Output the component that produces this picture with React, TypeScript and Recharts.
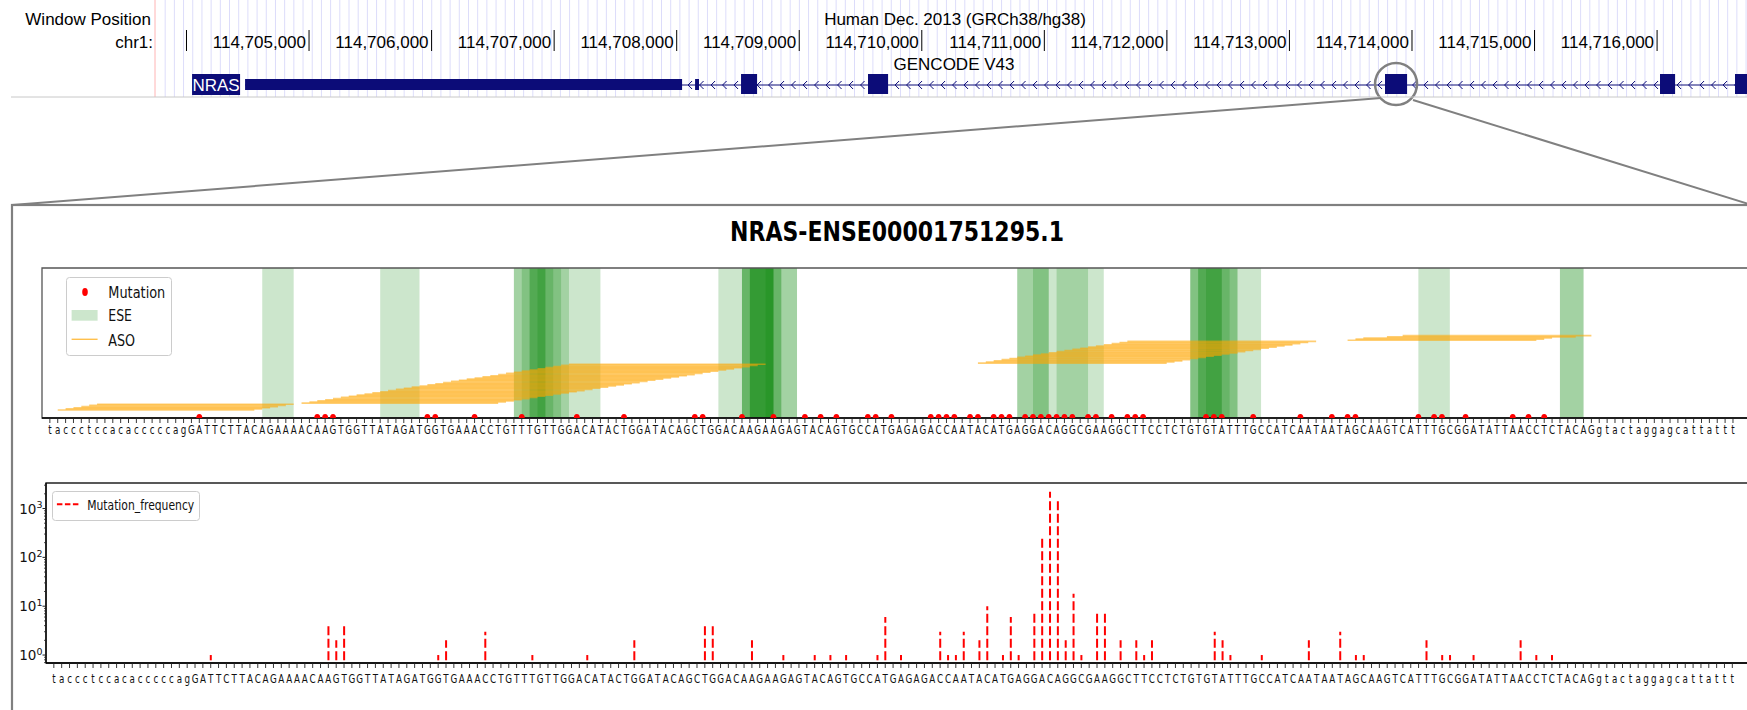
import React from 'react';
import {
  ComposedChart,
  XAxis,
  YAxis,
  ReferenceArea,
  Scatter,
  Bar,
  Legend,
} from 'recharts';

// ------------------------------------------------------------------ data
const SEQUENCE: string[] = (
  'taccctccacacccccag' +
  'GATTCTTACA' + 'GAAAACAAGT' + 'GGTTATAGAT' + 'GGTGAAACCT' + 'GTTTGTTGGA' +
  'CATACTGGAT' + 'ACAGCTGGAC' + 'AAGAAGAGTA' + 'CAGTGCCATG' + 'AGAGACCAAT' +
  'ACATGAGGAC' + 'AGGCGAAGGC' + 'TTCCTCTGTG' + 'TATTTGCCAT' + 'CAATAATAGC' +
  'AAGTCATTTG' + 'CGGATATTAA' + 'CCTCTACAG' +
  'gtactaggagcattattt'
).split('');

const MUTATION_POS = [
  19, 34, 35, 36, 48, 49, 54, 60, 67,
  73, 82, 83, 88, 92, 96, 98, 100, 104, 105, 107, 112, 113, 114, 115, 117, 118, 120, 121, 122,
  124, 125, 126, 127, 128, 129, 130, 132, 133, 135, 137, 138, 139,
  147, 148, 149, 153, 159, 163, 165, 166, 174, 176, 177, 180, 186, 188, 190,
];
const MUTATION_FREQ = [
  1, 4, 2, 4, 1, 2, 3, 1, 1,
  2, 4, 4, 2, 1, 1, 1, 1, 1, 6, 1, 3, 1, 1, 3, 2, 10, 1, 6, 1,
  7, 260, 2200, 1500, 2, 18, 1, 8, 8, 2, 2, 1, 2,
  3, 2, 1, 1, 2, 3, 1, 1, 2, 1, 1, 1, 2, 1, 1,
];
// frequency panel is drawn one position to the right of the mutation panel
const FREQ_POS_SHIFT = 1;

const ESE_START = [27, 42, 59, 59, 60, 61, 61, 62, 85, 88, 88, 88, 89, 89, 89, 91, 123, 123, 125, 128, 145, 145, 145, 146, 146, 147, 174, 192, 192];
const ESE_END = [31, 47, 64, 63, 65, 66, 63, 70, 95, 92, 92, 93, 92, 92, 93, 95, 127, 127, 132, 134, 149, 151, 150, 149, 151, 154, 178, 195, 195];

const ASO_START = [
  1, 2, 3, 4, 5, 6,
  32, 33, 34, 35, 36, 37, 38, 39, 40, 41, 42, 43, 44, 45, 46, 47, 48, 49, 50, 51, 52, 53, 54, 55, 56, 57, 58, 59, 60, 61, 62, 63, 64, 65, 66,
  118, 119, 120, 121, 122, 123, 124, 125, 126, 127, 128, 129, 130, 131, 132, 133, 134, 135, 136, 137,
  165, 166, 167, 170, 172,
];
const ASO_END = [
  26, 27, 28, 29, 30, 31,
  57, 58, 59, 60, 61, 62, 63, 64, 65, 66, 67, 68, 69, 70, 71, 72, 73, 74, 75, 76, 77, 78, 79, 80, 81, 82, 83, 84, 85, 86, 87, 88, 89, 90, 91,
  142, 143, 144, 145, 146, 147, 148, 149, 150, 151, 152, 153, 154, 155, 156, 157, 158, 159, 160, 161,
  189, 190, 191, 194, 196,
];

const Y_MAJOR = [1, 10, 100, 1000];
const Y_MINOR = [0.7, 0.8, 0.9, 2, 3, 4, 5, 6, 7, 8, 9, 20, 30, 40, 50, 60, 70, 80, 90, 200, 300, 400, 500, 600, 700, 800, 900, 2000, 3000];

// genome browser strip
const BROWSER_START = 114703743;
const BROWSER_END = 114716799;
const RULER_TICKS = [114704000, 114705000, 114706000, 114707000, 114708000, 114709000, 114710000, 114711000, 114712000, 114713000, 114714000, 114715000, 114716000];
const GENE_NAME = 'NRAS';
const GENE_START = 114704478;
const GENE_END = 114716771;
const UTR_START = [114704478, 114708150];
const UTR_END = [114708044, 114708182];
const EXON_START = [114708525, 114709561, 114713780, 114716024, 114716636];
const EXON_END = [114708656, 114709725, 114713960, 114716147, 114716771];
const FOCUS_EXON = 2;

// ------------------------------------------------------------------ style
const MPL_FONT = 'DejaVu Sans';
const UCSC_FONT = 'Liberation Sans, Arial, sans-serif';
const UCSC_SIZE = 17;
const NAVY = '#0c0c78';
const X_DOMAIN: [number, number] = [-1, 216];
const SEQ_TICKS = SEQUENCE.map((_, i) => i);
const TOP_Y_DOMAIN: [number, number] = [-7, 124.2];
const LOG_DOMAIN: [number, number] = [0.687, 3330];
const STEM_BASE = 0.78;
const GRID_STEP = 75;
const GRID_ORIGIN = 114703822;
const GRID_WIDTH_BP = 8;
const GRID_LINES: number[] = [];
for (let g = GRID_ORIGIN; g < BROWSER_END; g += GRID_STEP) GRID_LINES.push(g);

const fmtComma = (v: number) => String(v).replace(/\B(?=(\d{3})+(?!\d))/g, ',');

// ------------------------------------------------------------------ ticks & shapes
function makeSeqTick(dy: number) {
  return function SeqTick(props: any) {
    const { x, y, payload } = props;
    return (
      <text
        transform={`translate(${x},${y}) scale(0.7,1)`}
        x={0}
        y={0}
        dy={dy}
        textAnchor="middle"
        fontFamily={MPL_FONT}
        fontSize={12.5}
        fill="#111"
      >
        {SEQUENCE[payload.value]}
      </text>
    );
  };
}
const TopSeqTick = makeSeqTick(10.5);
const BottomSeqTick = makeSeqTick(15.5);

function LogTick(props: any) {
  const { x, y, payload } = props;
  const v = payload.value as number;
  const k = Math.round(Math.log10(v));
  const isMajor = Y_MAJOR.indexOf(v) >= 0;
  if (!isMajor) {
    return <line x1={x - 2} x2={x} y1={y} y2={y} stroke="#222" strokeWidth={0.8} />;
  }
  return (
    <g>
      <line x1={x - 3.5} x2={x} y1={y} y2={y} stroke="#222" strokeWidth={1} />
      <text x={x - 3.5} y={y + 5} textAnchor="end" fontFamily={MPL_FONT} fontSize={13.5} fill="#111">
        10<tspan dy={-5.5} fontSize={9.5}>{k}</tspan>
      </text>
    </g>
  );
}

function RulerTick(props: any) {
  const { x, payload } = props;
  const v = payload.value as number;
  return (
    <g>
      <line x1={x} x2={x} y1={30} y2={51} stroke="#000" strokeWidth={1} />
      {v > RULER_TICKS[0] && (
        <text x={x - 3} y={47.5} textAnchor="end" fontFamily={UCSC_FONT} fontSize={UCSC_SIZE} fill="#000">
          {fmtComma(v)}
        </text>
      )}
    </g>
  );
}

function GeneSpanShape(props: any) {
  const { x, y, width, height } = props;
  const mid = y + height / 2;
  const chev: React.ReactNode[] = [];
  for (let cx = x + 8; cx < x + width; cx += 11.5) {
    chev.push(
      <polyline
        key={cx}
        points={`${cx + 2},${mid - 4} ${cx - 2},${mid} ${cx + 2},${mid + 4}`}
        fill="none"
        stroke={NAVY}
        strokeWidth={1}
      />
    );
  }
  return (
    <g>
      <line x1={x} x2={x + width} y1={mid} y2={mid} stroke={NAVY} strokeWidth={1} />
      {chev}
      <rect x={x - 53} y={74} width={48} height={21} fill={NAVY} />
      <text x={x - 29} y={90.5} textAnchor="middle" fontFamily={UCSC_FONT} fontSize={UCSC_SIZE} fill="#fff">
        {GENE_NAME}
      </text>
    </g>
  );
}

function FocusCircle(props: any) {
  const { cx, cy } = props;
  return <circle cx={cx} cy={cy} r={21} fill="none" stroke="#808080" strokeWidth={2.5} />;
}

function HalfDot(props: any) {
  const { cx, cy } = props;
  return <path d={`M${cx - 3},${cy} A3,4 0 0 1 ${cx + 3},${cy} Z`} fill="#ff0000" />;
}

function DashedStem(props: any) {
  const { x, y, width, height } = props;
  if (x == null || y == null) return null;
  const cx = x + width / 2;
  const top = Math.min(y, y + height);
  const bot = Math.max(y, y + height);
  return <line x1={cx} x2={cx} y1={bot} y2={top} stroke="#ff0000" strokeWidth={2} strokeDasharray="9 3.5" />;
}

function TopLegendBox() {
  return (
    <svg width={106} height={79} style={{ display: 'block', overflow: 'visible' }}>
      <rect x={0.5} y={0.5} width={105} height={78} rx={3} ry={3} fill="#ffffff" fillOpacity={0.8} stroke="#cccccc" />
      <ellipse cx={19} cy={15} rx={2.8} ry={4} fill="#ff0000" />
      <text x={42.3} y={20.8} fontFamily={MPL_FONT} fontSize={16} fill="#111" textLength={57} lengthAdjust="spacingAndGlyphs">Mutation</text>
      <rect x={5.6} y={33} width={26} height={10.7} fill="#008000" fillOpacity={0.2} />
      <text x={42.3} y={44} fontFamily={MPL_FONT} fontSize={16} fill="#111" textLength={23.7} lengthAdjust="spacingAndGlyphs">ESE</text>
      <line x1={5.6} x2={31.6} y1={62.3} y2={62.3} stroke="#ffa500" strokeOpacity={0.7} strokeWidth={1.4} />
      <text x={42.3} y={68.5} fontFamily={MPL_FONT} fontSize={16} fill="#111" textLength={26.8} lengthAdjust="spacingAndGlyphs">ASO</text>
    </svg>
  );
}

function BottomLegendBox() {
  return (
    <svg width={148} height={30} style={{ display: 'block', overflow: 'visible' }}>
      <rect x={0.5} y={0.5} width={147} height={29} rx={3} ry={3} fill="#ffffff" fillOpacity={0.8} stroke="#cccccc" />
      <line x1={4.9} x2={26.8} y1={13.3} y2={13.3} stroke="#ff0000" strokeWidth={2} strokeDasharray="5.5 2.5" />
      <text x={35.2} y={18.5} fontFamily={MPL_FONT} fontSize={14} fill="#111" textLength={107} lengthAdjust="spacingAndGlyphs">Mutation_frequency</text>
    </svg>
  );
}

// ------------------------------------------------------------------ charts
function BrowserChart() {
  const focusMid = (EXON_START[FOCUS_EXON] + EXON_END[FOCUS_EXON]) / 2;
  return (
    <ComposedChart width={1600} height={111} margin={{ top: 0, right: 0, bottom: 0, left: 0 }}>
      <XAxis
        type="number"
        dataKey="x"
        domain={[BROWSER_START, BROWSER_END]}
        allowDataOverflow
        ticks={RULER_TICKS}
        interval={0}
        tick={RulerTick}
        tickLine={false}
        axisLine={false}
        height={1}
      />
      <YAxis type="number" dataKey="y" domain={[0, 110]} reversed hide allowDataOverflow />
      {GRID_LINES.map((g) => (
        <ReferenceArea
          key={'g' + g}
          x1={g}
          x2={g + GRID_WIDTH_BP}
          y1={0}
          y2={97}
          fill="#dcdcfa"
          fillOpacity={1}
          stroke="none"
          ifOverflow="visible"
        />
      ))}
      <ReferenceArea x1={GENE_START} x2={GENE_END} y1={80} y2={90} shape={GeneSpanShape} ifOverflow="visible" />
      {UTR_START.map((s, i) => (
        <ReferenceArea key={'u' + i} x1={s} x2={UTR_END[i]} y1={79} y2={90} fill={NAVY} fillOpacity={1} stroke="none" ifOverflow="visible" />
      ))}
      {EXON_START.map((s, i) => (
        <ReferenceArea key={'e' + i} x1={s} x2={EXON_END[i]} y1={74} y2={94} fill={NAVY} fillOpacity={1} stroke="none" ifOverflow="visible" />
      ))}
      <Scatter data={[{ x: focusMid, y: 84 }]} dataKey="y" shape={FocusCircle} isAnimationActive={false} />
    </ComposedChart>
  );
}

function TopChart() {
  const dots = MUTATION_POS.map((p) => ({ x: p, y: TOP_Y_DOMAIN[0] }));
  return (
    <ComposedChart width={1760} height={190} margin={{ top: 8, right: 11.3, bottom: 0, left: 42 }}>
      <XAxis
        type="number"
        dataKey="x"
        domain={X_DOMAIN}
        allowDataOverflow
        ticks={SEQ_TICKS}
        interval={0}
        tick={TopSeqTick}
        tickSize={5}
        tickMargin={0}
        tickLine={{ stroke: '#222', strokeWidth: 0.9 }}
        axisLine={{ stroke: '#000', strokeWidth: 1.5 }}
        height={32}
      />
      <YAxis type="number" dataKey="y" domain={TOP_Y_DOMAIN} allowDataOverflow hide />
      {ESE_START.map((s, i) => (
        <ReferenceArea key={'ese' + i} x1={s} x2={ESE_END[i]} fill="#008000" fillOpacity={0.2} stroke="none" />
      ))}
      {ASO_START.map((s, i) => (
        <ReferenceArea
          key={'aso' + i}
          x1={s}
          x2={ASO_END[i]}
          y1={i - 0.72}
          y2={i + 0.72}
          fill="#ffa500"
          fillOpacity={0.55}
          stroke="none"
        />
      ))}
      <Scatter data={dots} dataKey="y" shape={HalfDot} isAnimationActive={false} />
      <ReferenceArea x1={X_DOMAIN[0]} x2={X_DOMAIN[1]} y1={TOP_Y_DOMAIN[0]} y2={TOP_Y_DOMAIN[1]} fill="none" stroke="#555" strokeWidth={1.3} />
      <Legend
        layout="vertical"
        align="center"
        verticalAlign="middle"
        content={() => <TopLegendBox />}
        wrapperStyle={{ position: 'absolute', left: 66, top: 17, width: 106, height: 79 }}
      />
    </ComposedChart>
  );
}

function BottomChart() {
  const rows = MUTATION_POS.map((p, i) => ({ x: p + FREQ_POS_SHIFT, range: [STEM_BASE, MUTATION_FREQ[i]] }));
  const yTicks = [...Y_MAJOR, ...Y_MINOR].sort((a, b) => a - b);
  return (
    <ComposedChart width={1760} height={221} data={rows} margin={{ top: 11, right: 12, bottom: 0, left: 0 }}>
      <XAxis
        type="number"
        dataKey="x"
        domain={X_DOMAIN}
        allowDataOverflow
        ticks={SEQ_TICKS}
        interval={0}
        tick={BottomSeqTick}
        tickSize={5}
        tickMargin={0}
        tickLine={{ stroke: '#222', strokeWidth: 0.9 }}
        axisLine={{ stroke: '#000', strokeWidth: 1.5 }}
        height={30}
      />
      <YAxis
        type="number"
        scale="log"
        domain={LOG_DOMAIN}
        allowDataOverflow
        ticks={yTicks}
        interval={0}
        tick={LogTick}
        tickSize={0}
        tickMargin={0}
        tickLine={false}
        axisLine={{ stroke: '#000', strokeWidth: 1.3 }}
        width={46}
      />
      <Bar dataKey="range" barSize={2} shape={DashedStem} isAnimationActive={false} />
      <ReferenceArea x1={X_DOMAIN[0]} x2={X_DOMAIN[1]} y1={LOG_DOMAIN[0]} y2={LOG_DOMAIN[1]} fill="none" stroke="#222" strokeWidth={1.3} />
      <Legend
        layout="vertical"
        align="center"
        verticalAlign="middle"
        content={() => <BottomLegendBox />}
        wrapperStyle={{ position: 'absolute', left: 51.7, top: 18.7, width: 148, height: 30 }}
      />
    </ComposedChart>
  );
}

// ------------------------------------------------------------------ page
export default function App() {
  return (
    <div style={{ position: 'absolute', left: 0, top: 0, width: 1747, height: 710, overflow: 'hidden', background: '#fff' }}>
      <div style={{ position: 'absolute', left: 155, top: 0 }}>
        <BrowserChart />
      </div>
      <div style={{ position: 'absolute', left: 0, top: 260 }}>
        <TopChart />
      </div>
      <div style={{ position: 'absolute', left: 0, top: 472 }}>
        <BottomChart />
      </div>
      <svg width={1747} height={710} style={{ position: 'absolute', left: 0, top: 0, pointerEvents: 'none' }}>
        <line x1={155} x2={155} y1={0} y2={97} stroke="#ffb4b4" strokeWidth={1} />
        <line x1={11} x2={1747} y1={97} y2={97} stroke="#c8c8c8" strokeWidth={1} />
        <text x={151} y={25} textAnchor="end" fontFamily={UCSC_FONT} fontSize={UCSC_SIZE} fill="#000">Window Position</text>
        <text x={153} y={47.5} textAnchor="end" fontFamily={UCSC_FONT} fontSize={UCSC_SIZE} fill="#000">chr1:</text>
        <text x={955} y={25} textAnchor="middle" fontFamily={UCSC_FONT} fontSize={UCSC_SIZE} fill="#000">Human Dec. 2013 (GRCh38/hg38)</text>
        <text x={954} y={70} textAnchor="middle" fontFamily={UCSC_FONT} fontSize={UCSC_SIZE} fill="#000">GENCODE V43</text>
        <line x1={1381} y1={98} x2={12} y2={205} stroke="#808080" strokeWidth={2} />
        <line x1={1413} y1={100} x2={1765} y2={209} stroke="#808080" strokeWidth={2} />
        <rect x={12} y={205} width={1800} height={600} fill="none" stroke="#808080" strokeWidth={2.2} />
        <text x={897} y={240.5} textAnchor="middle" fontFamily={MPL_FONT} fontWeight="bold" fontSize={27} fill="#000" textLength={334} lengthAdjust="spacingAndGlyphs">
          NRAS-ENSE00001751295.1
        </text>
      </svg>
    </div>
  );
}
